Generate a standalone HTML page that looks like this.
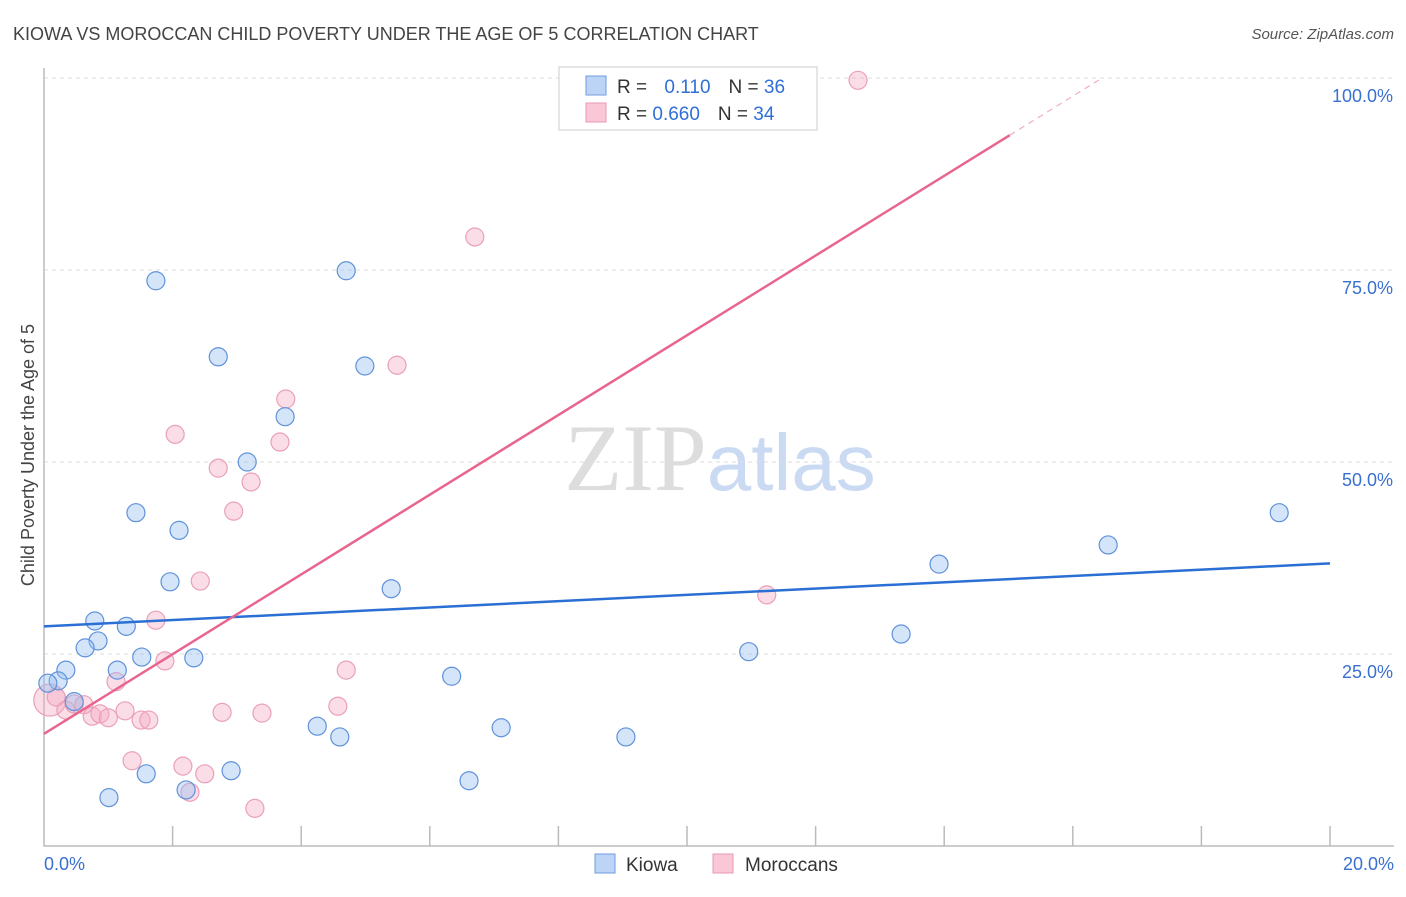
<!DOCTYPE html>
<html><head><meta charset="utf-8"><style>
body{margin:0;background:#fff;font-family:"Liberation Sans",sans-serif}
</style></head><body>
<svg id="chart" width="1406" height="892" xmlns="http://www.w3.org/2000/svg" font-family="Liberation Sans, sans-serif">
<text x="13" y="40" font-size="18" fill="#444">KIOWA VS MOROCCAN CHILD POVERTY UNDER THE AGE OF 5 CORRELATION CHART</text>
<text x="1394" y="39" font-size="15" fill="#555" font-style="italic" text-anchor="end">Source: ZipAtlas.com</text>
<text x="720" y="490" font-size="95" text-anchor="middle" fill="#ddd"><tspan font-family="Liberation Serif, serif">ZIP</tspan><tspan fill="#c9daf2" font-size="80">atlas</tspan></text>
<g id="grid"></g>
<g id="axes"></g>
<g id="marks"></g>
<text transform="translate(34,455) rotate(-90)" font-size="18" fill="#444" text-anchor="middle">Child Poverty Under the Age of 5</text>
<g>
<rect x="559" y="67" width="258" height="63" fill="#fff" stroke="#ccc"/>
<rect x="586" y="76" width="20" height="19" fill="#bcd4f5" stroke="#6f9de0"/>
<rect x="586" y="103" width="20" height="19" fill="#f9c7d6" stroke="#e99ab3"/>
<text x="617" y="93" font-size="19" fill="#333">R = <tspan fill="#2f6fd6" dx="12">0.110</tspan><tspan dx="18" fill="#333">N = </tspan><tspan fill="#2f6fd6">36</tspan></text>
<text x="617" y="120" font-size="19" fill="#333">R = <tspan fill="#2f6fd6">0.660</tspan><tspan dx="18" fill="#333">N = </tspan><tspan fill="#2f6fd6">34</tspan></text>
</g>
<g>
<rect x="595" y="854" width="20" height="19" fill="#bcd4f5" stroke="#6f9de0"/>
<text x="626" y="871" font-size="19" fill="#333">Kiowa</text>
<rect x="713" y="854" width="20" height="19" fill="#f9c7d6" stroke="#e99ab3"/>
<text x="745" y="871" font-size="19" fill="#333">Moroccans</text>
</g>
</svg>
<script>
const kiowaX=[1.74,4.70,2.71,4.99,3.75,3.16,1.43,2.10,1.96,5.40,0.79,1.28,0.84,0.64,1.52,2.33,1.14,0.34,0.22,0.06,0.47,6.34,4.25,4.60,7.11,9.05,1.59,2.91,2.21,1.01,6.61,10.96,13.33,13.92,16.55,19.21];
const kiowaY=[73.6,74.9,63.7,62.5,55.9,50.0,43.4,41.1,34.4,33.5,29.3,28.6,26.7,25.8,24.6,24.5,22.9,22.9,21.5,21.2,18.8,22.1,15.6,14.2,15.4,14.2,9.4,9.8,7.3,6.3,8.5,25.3,27.6,36.7,39.2,43.4];
const morX=[12.66,6.70,5.49,3.76,2.04,3.67,2.71,3.22,2.95,2.43,1.74,1.88,1.12,4.70,4.57,11.24,0.09,0.19,0.34,0.47,0.62,0.75,0.87,1.00,1.26,1.51,1.63,2.77,3.39,1.37,2.16,2.50,2.27,3.28];
const morY=[99.7,79.3,62.6,58.2,53.6,52.6,49.2,47.4,43.6,34.5,29.4,24.1,21.4,22.9,18.2,32.7,19.0,19.4,17.7,18.5,18.4,16.9,17.2,16.7,17.6,16.4,16.4,17.4,17.3,11.1,10.4,9.4,7.0,4.9];
const yTicks=[25,50,75,100];
const yTickLabels=["25.0%","50.0%","75.0%","100.0%"];
const xTicks=[0,2,4,6,8,10,12,14,16,18,20];
const kiowaTrend=[28.6,36.8];
const morTrend=[14.6,5.19];
const NS="http://www.w3.org/2000/svg";
const X=v=>44+v/20*1286, Y=v=>846-v/25*192;
function mk(p,t,a){const e=document.createElementNS(NS,t);for(const k in a)e.setAttribute(k,a[k]);p.appendChild(e);return e;}
const grid=document.getElementById('grid'),axes=document.getElementById('axes'),marks=document.getElementById('marks');
yTicks.forEach((t,i)=>{const l=mk(grid,'line',{x1:44,x2:1394,y1:Y(t),y2:Y(t),stroke:'#ddd','stroke-dasharray':'4,4'});

const tx=mk(grid,'text',{x:1393,y:Y(t)+24,'font-size':18,fill:'#3a70d0','text-anchor':'end'});tx.textContent=yTickLabels[i];
});
const ax=mk(axes,'path',{d:'M44,68V846H1394',fill:'none',stroke:'#bbb','stroke-width':1.5});

xTicks.slice(1).forEach(t=>{const l=mk(axes,'line',{x1:X(t),x2:X(t),y1:826,y2:846,stroke:'#bbb','stroke-width':1.5});
});
let t0=mk(axes,'text',{x:44,y:870,'font-size':18,fill:'#3a70d0'});t0.textContent='0.0%';

let t1=mk(axes,'text',{x:1394,y:870,'font-size':18,fill:'#3a70d0','text-anchor':'end'});t1.textContent='20.0%';

morX.forEach((x,i)=>{const c=mk(marks,'circle',{cx:X(x),cy:Y(morY[i]),r:i==16?16:9,fill:'rgba(246,170,195,0.4)',stroke:'#eaa0b8','stroke-width':1.2});
});
kiowaX.forEach((x,i)=>{const c=mk(marks,'circle',{cx:X(x),cy:Y(kiowaY[i]),r:9,fill:'rgba(150,190,240,0.4)',stroke:'#5f92da','stroke-width':1.2});
});
const kl=mk(marks,'line',{x1:X(0),y1:Y(kiowaTrend[0]),x2:X(20),y2:Y(kiowaTrend[1]),stroke:'#2a6fd4','stroke-width':2.5});

const xe=15.02,xd=(100-morTrend[0])/morTrend[1];
const ml=mk(marks,'line',{x1:X(0),y1:Y(morTrend[0]),x2:X(xe),y2:Y(morTrend[0]+morTrend[1]*xe),stroke:'#e8658e','stroke-width':2.5});

const md=mk(marks,'line',{x1:X(xe),y1:Y(morTrend[0]+morTrend[1]*xe),x2:X(xd),y2:Y(100),stroke:'#f0a0b8','stroke-width':1,'stroke-dasharray':'6,5'});

</script>
</body></html>
